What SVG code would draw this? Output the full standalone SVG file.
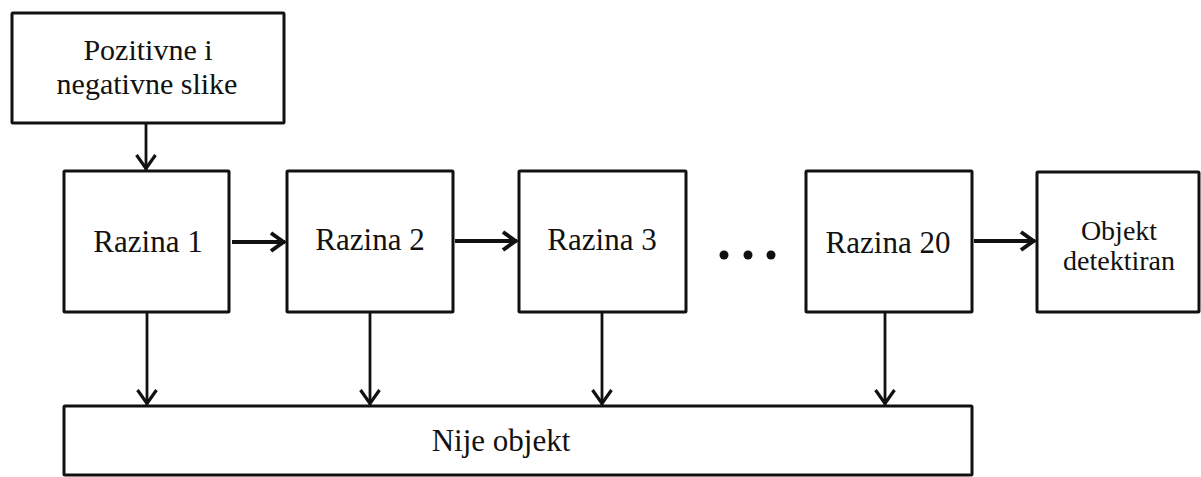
<svg xmlns="http://www.w3.org/2000/svg" width="1201" height="477" viewBox="0 0 1201 477">
  <defs>
    <style>
      .box { fill: #ffffff; stroke: #111111; stroke-width: 3; }
      .lbl { font-family: "Liberation Serif", "Times New Roman", serif; font-size: 31px; fill: #111111; text-anchor: middle; }
      .two { font-size: 30px; }
      .sm { font-size: 28px; }
      .conn { stroke: #111111; fill: none; stroke-linecap: butt; }
      .v { stroke-width: 2.8; }
      .h { stroke-width: 4; }
    </style>
    <marker id="ahV" markerUnits="userSpaceOnUse" viewBox="-18 -13 22 26" refX="0" refY="0" markerWidth="22" markerHeight="26" orient="auto">
      <path d="M -15 -9.5 L -1.5 0 L -15 9.5" fill="none" stroke="#111111" stroke-width="3.2" stroke-linejoin="miter"/>
    </marker>
    <marker id="ahH" markerUnits="userSpaceOnUse" viewBox="-18 -13 22 26" refX="0" refY="0" markerWidth="22" markerHeight="26" orient="auto">
      <path d="M -14 -9 L -1.5 0 L -14 9" fill="none" stroke="#111111" stroke-width="4" stroke-linejoin="miter"/>
    </marker>
  </defs>
  <rect width="1201" height="477" fill="#ffffff"/>

  <g id="connectors">
    <line class="conn v" x1="146" y1="124" x2="146" y2="170" marker-end="url(#ahV)"/>
    <line class="conn h" x1="232" y1="242" x2="285" y2="242" marker-end="url(#ahH)"/>
    <line class="conn h" x1="455" y1="241" x2="517" y2="241" marker-end="url(#ahH)"/>
    <line class="conn h" x1="974" y1="241" x2="1035" y2="241" marker-end="url(#ahH)"/>
    <line class="conn v" x1="147" y1="313" x2="147" y2="405" marker-end="url(#ahV)"/>
    <line class="conn v" x1="370" y1="313" x2="370" y2="405" marker-end="url(#ahV)"/>
    <line class="conn v" x1="602" y1="313" x2="602" y2="405" marker-end="url(#ahV)"/>
    <line class="conn v" x1="885" y1="313" x2="885" y2="405" marker-end="url(#ahV)"/>
  </g>

  <g id="node-input">
    <rect class="box" x="12" y="13" width="272" height="110" rx="1"/>
    <text class="lbl two" x="148" y="60">Pozitivne i</text>
    <text class="lbl two" x="147" y="94">negativne slike</text>
  </g>

  <g id="node-razina1">
    <rect class="box" x="64" y="171" width="165" height="141" rx="1"/>
    <text class="lbl" x="148" y="252">Razina 1</text>
  </g>

  <g id="node-razina2">
    <rect class="box" x="287" y="171" width="166" height="141" rx="1"/>
    <text class="lbl" x="370" y="250">Razina 2</text>
  </g>

  <g id="node-razina3">
    <rect class="box" x="519" y="171" width="167" height="141" rx="1"/>
    <text class="lbl" x="602" y="250">Razina 3</text>
  </g>

  <g id="ellipsis">
    <circle cx="724" cy="255" r="4.5" fill="#111111"/>
    <circle cx="748" cy="255" r="4.5" fill="#111111"/>
    <circle cx="771" cy="255" r="4.5" fill="#111111"/>
  </g>

  <g id="node-razina20">
    <rect class="box" x="806" y="171" width="166" height="141" rx="1"/>
    <text class="lbl" x="888" y="253">Razina 20</text>
  </g>

  <g id="node-detected">
    <rect class="box" x="1037" y="172" width="162" height="140" rx="1"/>
    <text class="lbl sm" x="1119" y="240">Objekt</text>
    <text class="lbl sm" x="1119" y="270">detektiran</text>
  </g>

  <g id="node-not-object">
    <rect class="box" x="64" y="406" width="908" height="69" rx="1"/>
    <text class="lbl" x="501" y="451">Nije objekt</text>
  </g>
</svg>
